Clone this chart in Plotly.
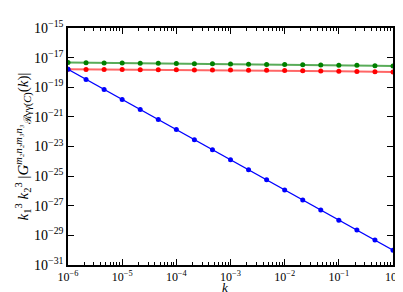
import plotly.graph_objects as go

k_values = [1e-6, 2.154e-6, 4.642e-6, 1e-5, 2.154e-5, 4.642e-5, 1e-4, 2.154e-4, 4.642e-4,
            1e-3, 2.154e-3, 4.642e-3, 1e-2, 2.154e-2, 4.642e-2, 1e-1, 2.154e-1, 4.642e-1, 1.0]
blue_values = [1.62e-18, 3.4e-19, 7.1e-20, 1.48e-20, 3.2e-21, 6.6e-22, 1.38e-22, 2.9e-23, 6.0e-24,
               1.26e-24, 2.7e-25, 5.6e-26, 1.17e-26, 2.45e-27, 5.1e-28, 1.07e-28, 2.3e-29, 4.8e-30, 1.0e-30]
red_values = [1.62e-18, 1.6e-18, 1.58e-18, 1.56e-18, 1.54e-18, 1.52e-18, 1.5e-18, 1.48e-18, 1.46e-18,
              1.44e-18, 1.42e-18, 1.38e-18, 1.35e-18, 1.31e-18, 1.27e-18, 1.22e-18, 1.17e-18, 1.11e-18, 1.05e-18]
green_values = [4.6e-18, 4.5e-18, 4.4e-18, 4.3e-18, 4.2e-18, 4.1e-18, 4.0e-18, 3.9e-18, 3.8e-18,
                3.7e-18, 3.6e-18, 3.5e-18, 3.4e-18, 3.3e-18, 3.2e-18, 3.1e-18, 3.0e-18, 2.85e-18, 2.7e-18]

x_tick_vals = [1e-6, 1e-5, 1e-4, 1e-3, 1e-2, 1e-1, 1]
x_tick_text = ["10<sup>−6</sup>", "10<sup>−5</sup>", "10<sup>−4</sup>", "10<sup>−3</sup>",
               "10<sup>−2</sup>", "10<sup>−1</sup>", "10<sup>0</sup>"]
y_tick_vals = [1e-15, 1e-17, 1e-19, 1e-21, 1e-23, 1e-25, 1e-27, 1e-29, 1e-31]
y_tick_text = ["10<sup>−15</sup>", "10<sup>−17</sup>", "10<sup>−19</sup>", "10<sup>−21</sup>",
               "10<sup>−23</sup>", "10<sup>−25</sup>", "10<sup>−27</sup>", "10<sup>−29</sup>",
               "10<sup>−31</sup>"]

minor_x = [m * 10.0 ** e for e in range(-6, 0) for m in range(2, 10)]

FONT = "Liberation Serif"

fig = go.Figure()
fig.add_trace(go.Scatter(x=k_values, y=green_values, mode="lines+markers",
                         line=dict(color="rgba(0,128,0,0.65)", width=2),
                         marker=dict(color="#008000", size=5)))
fig.add_trace(go.Scatter(x=k_values, y=red_values, mode="lines+markers",
                         line=dict(color="rgba(255,0,0,0.6)", width=2),
                         marker=dict(color="#ff0000", size=5)))
fig.add_trace(go.Scatter(x=k_values, y=blue_values, mode="lines+markers",
                         line=dict(color="#0000ff", width=1.2),
                         marker=dict(color="#0000ff", size=5)))

fig.update_layout(
    width=403, height=292,
    margin=dict(l=60, r=12, t=10, b=35),
    paper_bgcolor="white", plot_bgcolor="white",
    showlegend=False,
    font=dict(family=FONT, size=14, color="black"),
    annotations=[dict(text="<i>k</i>", xref="paper", yref="paper", x=0.483, y=-0.094,
                      xanchor="center", yanchor="middle", showarrow=False, borderpad=0,
                      font=dict(family=FONT, size=13))],
)
fig.update_xaxes(
    type="log", range=[-6, 0], tickmode="array", tickvals=x_tick_vals, ticktext=x_tick_text,
    ticks="inside", ticklen=6, tickwidth=1, tickcolor="black",
    showline=True, linecolor="black", linewidth=1.5, mirror="ticks",
    showgrid=False, zeroline=False,
    minor=dict(tickvals=minor_x, ticks="inside", ticklen=3, tickcolor="black", showgrid=False),
    tickfont=dict(family=FONT, size=12),
)
fig.update_yaxes(
    type="log", range=[-31, -15], tickmode="array", tickvals=y_tick_vals, ticktext=y_tick_text,
    ticks="inside", ticklen=6, tickwidth=1, tickcolor="black",
    showline=True, linecolor="black", linewidth=1.5, mirror="ticks",
    showgrid=False, zeroline=False,
    title=dict(text="<i>k</i><sub>1</sub><sup>3</sup> <i>k</i><sub>2</sub><sup>3</sup> |<i>G</i><sup><i>m₂n₂m₃n₃</i></sup><sub>ℛγγ(<i>C</i>)</sub>(<i>k</i>)|",
               font=dict(family=FONT, size=15), standoff=0),
    tickfont=dict(family=FONT, size=14),
)

fig.write_html("out.html")
